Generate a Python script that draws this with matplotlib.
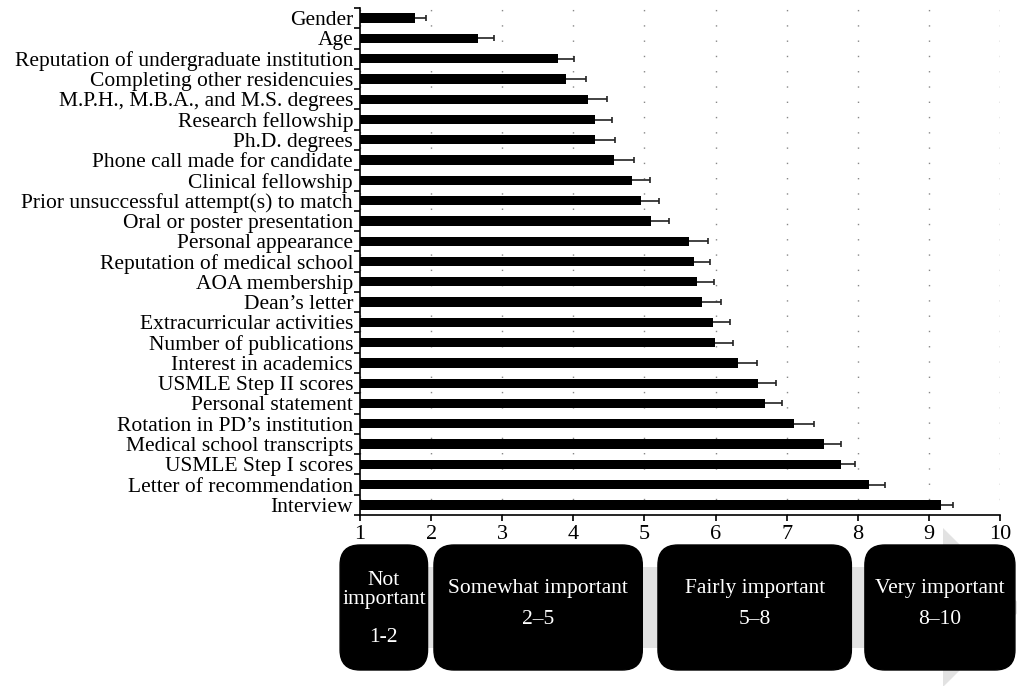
import numpy as np
import matplotlib
matplotlib.use("Agg")
import matplotlib.pyplot as plt
from matplotlib.patches import FancyBboxPatch, Polygon

plt.rcParams['font.family'] = 'Liberation Serif'

factors = ["Gender", "Age", "Reputation of undergraduate institution",
           "Completing other residencuies", "M.P.H., M.B.A., and M.S. degrees",
           "Research fellowship", "Ph.D. degrees", "Phone call made for candidate",
           "Clinical fellowship", "Prior unsuccessful attempt(s) to match",
           "Oral or poster presentation", "Personal appearance",
           "Reputation of medical school", "AOA membership", "Dean\u2019s letter",
           "Extracurricular activities", "Number of publications",
           "Interest in academics", "USMLE Step II scores", "Personal statement",
           "Rotation in PD\u2019s institution", "Medical school transcripts",
           "USMLE Step I scores", "Letter of recommendation", "Interview"]
means = [1.77, 2.66, 3.78, 3.89, 4.20, 4.30, 4.30, 4.57, 4.83, 4.95, 5.09,
         5.63, 5.69, 5.74, 5.81, 5.96, 5.99, 6.32, 6.59, 6.70, 7.11, 7.52,
         7.77, 8.16, 9.17]
errors = [0.16, 0.23, 0.23, 0.29, 0.27, 0.24, 0.28, 0.29, 0.25, 0.26, 0.25,
          0.27, 0.23, 0.24, 0.27, 0.25, 0.25, 0.26, 0.26, 0.23, 0.27, 0.24,
          0.19, 0.22, 0.17]

# importance scale shown under the axis
scale_names = ["Not\nimportant", "Somewhat important", "Fairly important", "Very important"]
scale_ranges = ["1-2", "2\u20135", "5\u20138", "8\u201310"]
scale_lo = [1, 2, 5, 8]
scale_hi = [2, 5, 8, 10]

fig = plt.figure(figsize=(10.17, 6.86), dpi=100)
W, H = 1017, 686
ax = fig.add_axes([360 / W, 1 - 515 / H, 640 / W, 507 / H])

y = np.arange(len(factors))
ax.barh(y, means, height=0.46, color='black', zorder=3)
ax.errorbar(means, y, xerr=errors, fmt='none', ecolor='#222222',
            elinewidth=1.2, capsize=2.4, capthick=1.2, zorder=2)

ax.set_xlim(1, 10)
ax.set_ylim(len(factors) - 0.5, -0.5)
ax.set_xticks(range(1, 11))
ax.set_yticks(y)
ax.set_yticklabels(factors)
ax.set_yticks(np.arange(len(factors) + 1) - 0.5, minor=True)
ax.tick_params(axis='y', which='major', length=0, labelsize=15.5, pad=5)
ax.tick_params(axis='y', which='minor', length=4, width=1.2, direction='out')
ax.tick_params(axis='x', length=4, width=1.2, labelsize=16, pad=3)
for side in ['top', 'right']:
    ax.spines[side].set_visible(False)
for side in ['left', 'bottom']:
    ax.spines[side].set_linewidth(1.2)
ax.xaxis.grid(True, color='#888888', linestyle=(0, (1, 10)), linewidth=1)
ax.set_axisbelow(True)

# lower panel: grey process arrow with rounded category boxes
ax2 = fig.add_axes([360 / W, 0, 640 / W, 161 / H])
ax2.set_xlim(1, 10)
ax2.set_ylim(686, 525)
ax2.axis('off')
px = 640 / 9  # pixels per x unit

def to_x(p):
    return 1 + (p - 360) / px

arrow = Polygon([(to_x(345), 567), (to_x(943), 567), (to_x(943), 528),
                 (to_x(1023), 607.5), (to_x(943), 687), (to_x(943), 648),
                 (to_x(345), 648)], closed=True, facecolor='#e2e2e2',
                edgecolor='none', clip_on=False, zorder=1)
ax2.add_patch(arrow)

pads = [(-0.28, -0.05), (0.04, -0.03), (0.19, -0.09), (0.1, 0.21)]
for name, rng, lo, hi, (pl, pr) in zip(scale_names, scale_ranges, scale_lo, scale_hi, pads):
    x0, x1 = lo + pl, hi + pr
    r = 20 / px
    box = FancyBboxPatch((x0 + r, 545 + 20), (x1 - x0) - 2 * r, 125 - 40,
                         boxstyle='round,pad=%f' % r, mutation_aspect=px,
                         facecolor='black', edgecolor='black', clip_on=False, zorder=2)
    ax2.add_patch(box)
    xc = (x0 + x1) / 2
    if '\n' in name:
        ax2.text(xc, 590, name, color='white', ha='center', va='center',
                 fontsize=15.5, linespacing=1.0, zorder=3)
        ax2.text(xc, 637, rng, color='white', ha='center', va='center',
                 fontsize=15.5, zorder=3)
    else:
        ax2.text(xc, 588, name, color='white', ha='center', va='center',
                 fontsize=15.5, zorder=3)
        ax2.text(xc, 619, rng, color='white', ha='center', va='center',
                 fontsize=15.5, zorder=3)

fig.savefig('out.png', dpi=100)
